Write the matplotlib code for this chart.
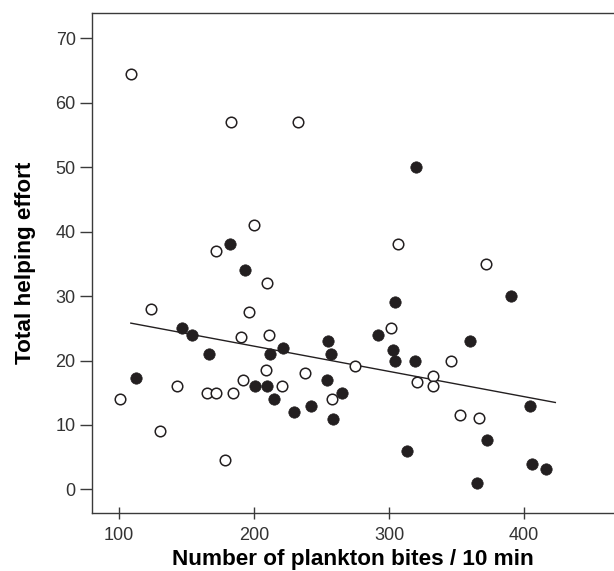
import numpy as np
import matplotlib
matplotlib.use("Agg")
import matplotlib.pyplot as plt

plt.rcParams['font.family'] = ['Liberation Sans', 'DejaVu Sans']

# open circles
open_x = [109.4, 183.4, 232.3, 200.2, 171.8, 210.0, 123.7, 196.6, 190.3, 211.5,
          101.2, 130.6, 142.9, 165.1, 171.8, 178.5, 184.9, 192.3, 209.3, 220.7,
          237.6, 306.3, 371.4, 301.3, 345.5, 274.7, 332.7, 320.8, 332.4, 257.7,
          352.6, 366.7]
open_y = [64.4, 57.0, 57.0, 41.0, 37.0, 32.0, 28.0, 27.5, 23.6, 24.0,
          14.0, 9.0, 16.0, 15.0, 15.0, 4.6, 15.0, 17.0, 18.5, 16.0,
          18.0, 38.0, 35.0, 25.0, 20.0, 19.1, 17.6, 16.6, 16.0, 14.1,
          11.6, 11.1]

# filled circles
fill_x = [320.3, 182.7, 193.5, 147.0, 154.2, 166.5, 212.0, 221.3, 255.0, 257.0,
          389.9, 304.3, 291.7, 303.0, 304.3, 319.1, 359.6, 113.1, 200.5, 209.4,
          214.7, 229.5, 242.5, 254.0, 265.1, 258.9, 404.2, 372.6, 313.0, 406.1,
          416.1, 364.8]
fill_y = [50.0, 38.0, 34.0, 25.0, 24.0, 21.0, 21.0, 22.0, 23.0, 21.0,
          30.0, 29.0, 24.0, 21.6, 20.0, 20.0, 23.0, 17.3, 16.0, 16.0,
          14.0, 12.0, 13.0, 17.0, 15.0, 11.0, 13.0, 7.6, 6.0, 4.0,
          3.1, 1.0]

# regression line (intercept, slope) and its x extent
fit_coef = [30.07, -0.0392]
fit_range = [109, 423]

xticks = [100, 200, 300, 400]
yticks = [0, 10, 20, 30, 40, 50, 60, 70]

W, H = 614, 571
fig = plt.figure(figsize=(W / 100, H / 100), dpi=100)
ax = fig.add_axes([92.3 / W, 1 - 513.3 / H, 1 - 92.3 / W, (513.3 - 13) / H])

ink = '#231f20'
lx = np.array(fit_range)
ax.plot(lx, fit_coef[0] + fit_coef[1] * lx, color=ink, lw=1.0, zorder=2)
ax.plot(open_x, open_y, 'o', ms=7.6, mfc='white', mec=ink, mew=1.1, ls='none', zorder=3)
ax.plot(fill_x, fill_y, 'o', ms=8.2, mfc=ink, mec=ink, mew=0.5, ls='none', zorder=3)

ax.set_xlim(80.5, 466.4)
ax.set_ylim(-3.7, 73.9)
ax.set_xticks(xticks)
ax.set_yticks(yticks)

ax.spines['right'].set_visible(False)
for s in ['left', 'bottom', 'top']:
    ax.spines[s].set_color('#3a3a3a')
    ax.spines[s].set_linewidth(1.0)

ax.tick_params(axis='y', direction='out', length=9, width=1.0, color='#3a3a3a',
               labelsize=13, labelcolor='#333333', pad=3)
ax.tick_params(axis='x', direction='inout', length=8, width=1.0, color='#3a3a3a',
               labelsize=13, labelcolor='#333333', pad=6)

ax.set_xlabel('Number of plankton bites / 10 min', fontsize=16.2, fontweight='bold')
ax.set_ylabel('Total helping effort', fontsize=16.2, fontweight='bold')
ax.xaxis.set_label_coords(0.5, -(559 - 513.3) / (513.3 - 13), transform=ax.transAxes)
ax.yaxis.set_label_coords(-(92.3 - 26) / (W - 92.3), 0.5, transform=ax.transAxes)
ax.xaxis.label.set_va('center')
ax.yaxis.label.set_va('center')

fig.savefig('out.png', dpi=100)
